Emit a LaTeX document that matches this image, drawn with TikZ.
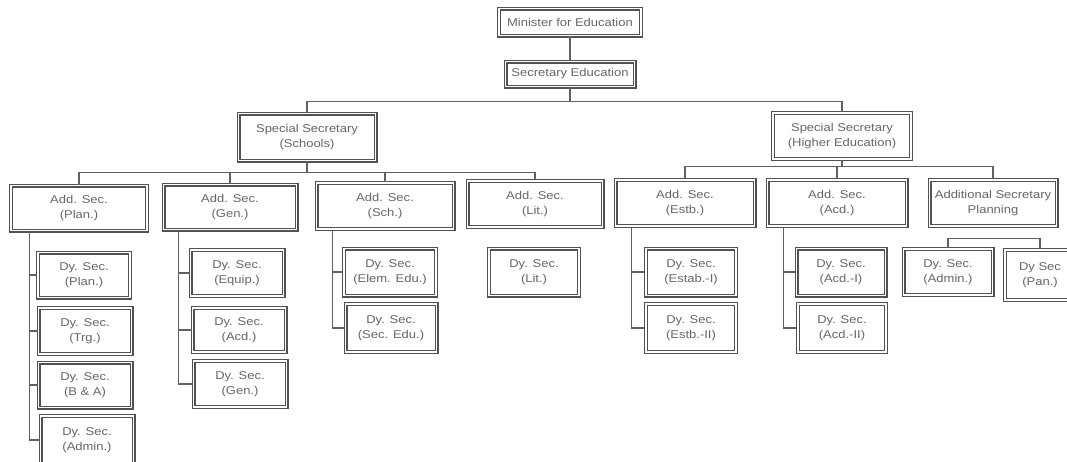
\documentclass[tikz,border=0pt]{standalone}
\usepackage{fontspec}
\setmainfont{Liberation Sans}[FakeStretch=1.15]
\begin{document}
\begin{tikzpicture}[x=1pt,y=-1pt,
  box/.style={draw=black!68, double=white, line width=1.4pt, double distance=1.2pt,
    fill=white, text=black!60, align=center, inner sep=0pt,
    font=\fontsize{11.3}{14.5}\selectfont},
  conn/.style={draw=black!62, line width=1.2pt}]
\fill[white] (0,0) rectangle (1067,461);
\useasboundingbox (0,0) rectangle (1067,461);
% top
\node[box, minimum width=142, minimum height=27] (min) at (570,22) {Minister for Education};
\node[box, minimum width=129, minimum height=25] (sec) at (570,74) {Secretary Education};
\node[box, minimum width=137, minimum height=47] (ssS) at (307,137) {Special Secretary\\(Schools)};
\node[box, minimum width=138, minimum height=46] (ssH) at (842,136) {Special Secretary\\(Higher Education)};
% additional secretaries
\node[box, minimum width=136, minimum height=45] (aPlan) at (79,208) {Add. Sec.\\(Plan.)};
\node[box, minimum width=133, minimum height=45] (aGen) at (230,207) {Add. Sec.\\(Gen.)};
\node[box, minimum width=137, minimum height=46] (aSch) at (385,206) {Add. Sec.\\(Sch.)};
\node[box, minimum width=135, minimum height=46] (aLit) at (535,204) {Add. Sec.\\(Lit.)};
\node[box, minimum width=139, minimum height=46] (aEstb) at (685,203) {Add. Sec.\\(Estb.)};
\node[box, minimum width=139, minimum height=46] (aAcd) at (837,203) {Add. Sec.\\(Acd.)};
\node[box, minimum width=127, minimum height=46] (aPlg) at (993,203) {Additional Secretary\\Planning};
% deputy secretaries
\node[box, minimum width=92, minimum height=45] (d11) at (84,275) {Dy. Sec.\\(Plan.)};
\node[box, minimum width=93, minimum height=46] (d12) at (85,331) {Dy. Sec.\\(Trg.)};
\node[box, minimum width=93, minimum height=45] (d13) at (85,385) {Dy. Sec.\\(B \& A)};
\node[box, minimum width=93, minimum height=48] (d14) at (87,440) {Dy. Sec.\\(Admin.)};
\node[box, minimum width=93, minimum height=46] (d21) at (237,273) {Dy. Sec.\\(Equip.)};
\node[box, minimum width=93, minimum height=44] (d22) at (239,330) {Dy. Sec.\\(Acd.)};
\node[box, minimum width=93, minimum height=46] (d23) at (240,384) {Dy. Sec.\\(Gen.)};
\node[box, minimum width=92, minimum height=47] (d31) at (390,272) {Dy. Sec.\\(Elem. Edu.)};
\node[box, minimum width=91, minimum height=48] (d32) at (391,328) {Dy. Sec.\\(Sec. Edu.)};
\node[box, minimum width=90, minimum height=47] (d41) at (534,272) {Dy. Sec.\\(Lit.)};
\node[box, minimum width=90, minimum height=47] (d51) at (691,272) {Dy. Sec.\\(Estab.-I)};
\node[box, minimum width=90, minimum height=48] (d52) at (691,328) {Dy. Sec.\\(Estb.-II)};
\node[box, minimum width=89, minimum height=47] (d61) at (841,272) {Dy. Sec.\\(Acd.-I)};
\node[box, minimum width=88, minimum height=48] (d62) at (842,328) {Dy. Sec.\\(Acd.-II)};
\node[box, minimum width=89, minimum height=46] (d71) at (948,272) {Dy. Sec.\\(Admin.)};
\node[box, minimum width=70, minimum height=50] (d72) at (1040,275) {Dy Sec\\(Pan.)};
% connectors
\draw[conn] (min.south) -- (sec.north);
\draw[conn] (sec.south) -- ++(0,14) coordinate (j1);
\draw[conn] (ssS.north) |- (j1) -| (ssH.north);
\draw[conn] (ssS.south) -- ++(0,11) coordinate (j2);
\draw[conn] (aPlan.north) |- (j2) -| (aLit.north);
\draw[conn] (j2) -| (aGen.north);
\draw[conn] (j2) -| (aSch.north);
\draw[conn] (ssH.south) -- ++(0,7) coordinate (j3);
\draw[conn] (aEstb.north) |- (j3) -| (aPlg.north);
\draw[conn] (j3) -| (aAcd.north);
\coordinate (t1) at ([xshift=19pt]aPlan.south west);
\coordinate (t2) at ([xshift=16pt]aGen.south west);
\coordinate (t3) at ([xshift=17pt]aSch.south west);
\coordinate (t5) at ([xshift=17pt]aEstb.south west);
\coordinate (t6) at ([xshift=17pt]aAcd.south west);
\foreach \c in {d11,d12,d13,d14} \draw[conn] (t1) |- (\c.west);
\foreach \c in {d21,d22,d23} \draw[conn] (t2) |- (\c.west);
\foreach \c in {d31,d32} \draw[conn] (t3) |- (\c.west);
\foreach \c in {d51,d52} \draw[conn] (t5) |- (\c.west);
\foreach \c in {d61,d62} \draw[conn] (t6) |- (\c.west);
\draw[conn] (d71.north) -- ++(0,-10) -| (d72.north);
\end{tikzpicture}
\end{document}
